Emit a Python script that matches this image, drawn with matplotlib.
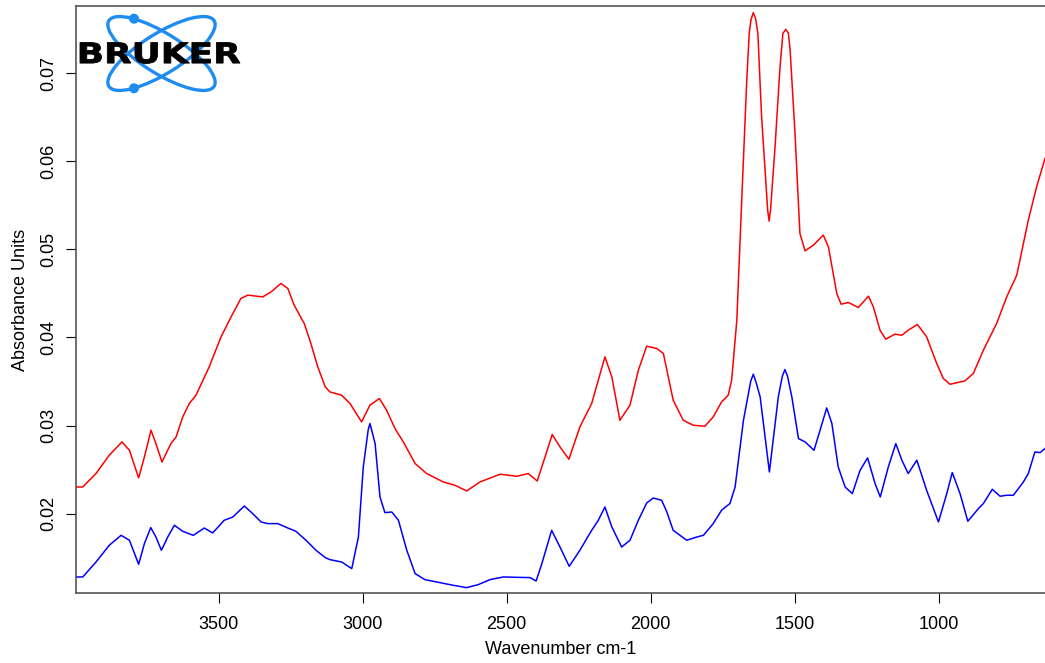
import numpy as np
import matplotlib
matplotlib.use("Agg")
import matplotlib.pyplot as plt
from matplotlib.patches import Ellipse, Circle, PathPatch
from matplotlib.textpath import TextPath
from matplotlib.font_manager import FontProperties
from matplotlib.transforms import Affine2D

# spectrum 1 (red)
red_wn = [3996, 3972, 3926, 3880, 3836, 3810, 3778, 3758, 3735, 3718, 3697, 3666,
          3648, 3625, 3602, 3579, 3533, 3492, 3457, 3423, 3399, 3347, 3318, 3284,
          3260, 3238, 3203, 3180, 3156, 3130, 3114, 3073, 3044, 3004, 2975, 2942,
          2917, 2888, 2859, 2818, 2778, 2720, 2680, 2639, 2593, 2523, 2465, 2425,
          2394, 2367, 2342, 2315, 2284, 2246, 2205, 2182, 2159, 2135, 2107, 2072,
          2043, 2014, 1979, 1956, 1922, 1887, 1852, 1812, 1783, 1754, 1731, 1719,
          1701, 1684, 1667, 1658, 1652, 1644, 1636, 1628, 1615, 1594, 1589, 1584,
          1569, 1551, 1541, 1531, 1522, 1516, 1499,
          1482, 1464, 1435, 1401, 1383, 1354, 1339, 1314, 1279, 1244, 1227, 1204,
          1184, 1152, 1128, 1106, 1074, 1042, 1007, 984, 961, 909, 880, 845,
          799, 764, 729, 689, 660, 631]
red_abs = [0.02302, 0.02302, 0.02455, 0.02663, 0.02814, 0.02719, 0.02405, 0.02643,
           0.02947, 0.02795, 0.02586, 0.02795, 0.02870, 0.03098, 0.03250, 0.03344,
           0.03666, 0.04007, 0.04234, 0.04443, 0.04481, 0.04461, 0.04518, 0.04614,
           0.04557, 0.04367, 0.04159, 0.03932, 0.03666, 0.03439, 0.03382, 0.03344,
           0.03250, 0.03041, 0.03231, 0.03307, 0.03174, 0.02966, 0.02814, 0.02568,
           0.02455, 0.02359, 0.02322, 0.02257, 0.02359, 0.02447, 0.02424, 0.02455,
           0.02370, 0.02643, 0.02898, 0.02757, 0.02617, 0.02984, 0.03250, 0.03515,
           0.03780, 0.03552, 0.03060, 0.03231, 0.03628, 0.03901, 0.03875, 0.03818,
           0.03288, 0.03060, 0.03003, 0.02992, 0.03098, 0.03268, 0.03344, 0.03515,
           0.04197, 0.05560, 0.06887, 0.07455, 0.07606, 0.07689, 0.07625, 0.07455,
           0.06507, 0.05450, 0.05322, 0.05450, 0.06129,
           0.07075, 0.07455, 0.07500, 0.07455, 0.07265, 0.06318, 0.05182, 0.04984,
           0.05049, 0.05163,
           0.05030, 0.04500, 0.04378, 0.04398, 0.04341, 0.04469, 0.04348, 0.04083,
           0.03981, 0.04038, 0.04026, 0.04083, 0.04148, 0.04007, 0.03705, 0.03534,
           0.03469, 0.03507, 0.03591, 0.03856, 0.04159, 0.04461, 0.04708, 0.05333,
           0.05712, 0.06034]

# spectrum 2 (blue)
blue_wn = [3996, 3972, 3926, 3880, 3839, 3810, 3778, 3758, 3736, 3718, 3699, 3677,
           3654, 3625, 3588, 3550, 3521, 3481, 3451, 3411, 3382, 3353, 3330, 3295,
           3260, 3232, 3197, 3162, 3130, 3114, 3073, 3038, 3015, 2998, 2981, 2975,
           2969, 2957,
           2940, 2923, 2899, 2876, 2847, 2818, 2784, 2732, 2685, 2639, 2599, 2558,
           2512, 2465, 2419, 2398, 2378, 2344, 2315, 2283, 2246, 2205, 2182, 2159,
           2135, 2101, 2072, 2043, 2014, 1991, 1962, 1944, 1922, 1875, 1840, 1817,
           1783, 1754, 1725, 1707, 1678, 1653, 1644, 1635, 1620, 1588, 1557, 1543,
           1534, 1525, 1510, 1487,
           1464, 1433, 1412, 1389, 1371, 1349, 1325, 1300, 1273, 1247, 1221, 1203,
           1175, 1149, 1128, 1106, 1076, 1042, 1001, 972, 953, 926, 899, 862,
           845, 814, 787, 764, 741, 706, 689, 666, 648, 631]
blue_abs = [0.01280, 0.01280, 0.01450, 0.01640, 0.01753, 0.01697, 0.01424, 0.01659,
            0.01841, 0.01734, 0.01583, 0.01734, 0.01867, 0.01799, 0.01753, 0.01836,
            0.01780, 0.01924, 0.01961, 0.02086, 0.02000, 0.01905, 0.01886, 0.01886,
            0.01836, 0.01799, 0.01697, 0.01583, 0.01500, 0.01477, 0.01450, 0.01375,
            0.01734, 0.02530, 0.02950, 0.03023, 0.02950, 0.02795,
            0.02189, 0.02011, 0.02018, 0.01924,
            0.01583, 0.01318, 0.01250, 0.01216, 0.01185, 0.01159, 0.01193, 0.01250,
            0.01280, 0.01276, 0.01273, 0.01234, 0.01432, 0.01810, 0.01620, 0.01401,
            0.01583, 0.01810, 0.01924, 0.02075, 0.01848, 0.01620, 0.01697, 0.01924,
            0.02120, 0.02177, 0.02151, 0.02018, 0.01810, 0.01697, 0.01734, 0.01753,
            0.01886, 0.02038, 0.02114, 0.02302, 0.03060, 0.03500, 0.03583, 0.03500,
            0.03325, 0.02473, 0.03325, 0.03560, 0.03636, 0.03560, 0.03325, 0.02852,
            0.02814, 0.02719, 0.02947, 0.03200,
            0.03023, 0.02530, 0.02302, 0.02227, 0.02492, 0.02632, 0.02341, 0.02189,
            0.02530, 0.02795, 0.02606, 0.02455, 0.02606, 0.02265, 0.01905, 0.02227,
            0.02466, 0.02227, 0.01913, 0.02057, 0.02114, 0.02276, 0.02197, 0.02208,
            0.02208, 0.02359, 0.02455, 0.02700, 0.02693, 0.02739]

x_ticks = [3500, 3000, 2500, 2000, 1500, 1000]
y_ticks = [0.02, 0.03, 0.04, 0.05, 0.06, 0.07]

W, H = 1045, 663
plt.rcParams["font.family"] = ["Liberation Sans", "DejaVu Sans"]

fig = plt.figure(figsize=(W / 100, H / 100), dpi=100)
ax = fig.add_axes([76 / W, (H - 593) / H, (W - 76) / W, (593 - 6) / H])

ax.plot(red_wn, red_abs, color="#ff0000", lw=1.1)
ax.plot(blue_wn, blue_abs, color="#0000ff", lw=1.1)

ax.set_xlim(3995.5, 631)
ax.set_ylim(0.01098, 0.07765)
ax.set_xticks(x_ticks)
ax.set_yticks(y_ticks)
ax.set_xticklabels([str(t) for t in x_ticks])
ax.set_yticklabels([f"{t:.2f}" for t in y_ticks], rotation=90, va="center")
ax.tick_params(direction="out", length=7.5, width=0.8, labelsize=13, pad=6)
ax.tick_params(axis="x", pad=9)
for side in ["left", "bottom", "top"]:
    ax.spines[side].set_color("#555555")
    ax.spines[side].set_linewidth(1.2)
ax.spines["right"].set_visible(False)
ax.set_xlabel("Wavenumber cm-1", fontsize=13, labelpad=6)
ax.set_ylabel("Absorbance Units", fontsize=13, labelpad=8)

# Bruker logo, drawn in pixel units (y downwards)
lx0, lx1, ly0, ly1 = 76, 246, 7, 102
lg = fig.add_axes([lx0 / W, (H - ly1) / H, (lx1 - lx0) / W, (ly1 - ly0) / H])
lg.set_xlim(lx0, lx1)
lg.set_ylim(ly1, ly0)
lg.axis("off")
cx, cy, a, b, th = 161.5, 53.5, 62.0, 20.0, 32.0
logo_blue = "#1e8cf0"
for sgn in (1, -1):
    lg.add_patch(Ellipse((cx, cy), 2 * a, 2 * b, angle=sgn * th, fill=False,
                         ec=logo_blue, lw=2.4))
# electrons sit on the outer branch a little left of centre
t = np.radians(th)
s = np.linspace(0, 2 * np.pi, 4000)
ex = a * np.cos(s) * np.cos(t) - b * np.sin(s) * np.sin(t)
ey = a * np.cos(s) * np.sin(t) + b * np.sin(s) * np.cos(t)
near = np.abs(ex + 27.5) < 0.6
dx, dy = -27.5, np.abs(ey[near]).max()
lg.add_patch(Circle((cx + dx, cy - dy), 4.3, color=logo_blue, zorder=3))
lg.add_patch(Circle((cx + dx, cy + dy), 4.3, color=logo_blue, zorder=3))

tp = TextPath((0, 0), "BRUKER", size=10,
              prop=FontProperties(family="DejaVu Sans", weight="bold"))
ext = tp.get_extents()
bx0, bx1, by0, by1 = 80, 240, 42.5, 63.5
tr = (Affine2D().translate(-ext.x0, -ext.y0)
      .scale((bx1 - bx0) / ext.width, -(by1 - by0) / ext.height)
      .translate(bx0, by1))
lg.add_patch(PathPatch(tr.transform_path(tp), fc="black", ec="black", lw=0.6))

fig.savefig("out.png", dpi=100)
